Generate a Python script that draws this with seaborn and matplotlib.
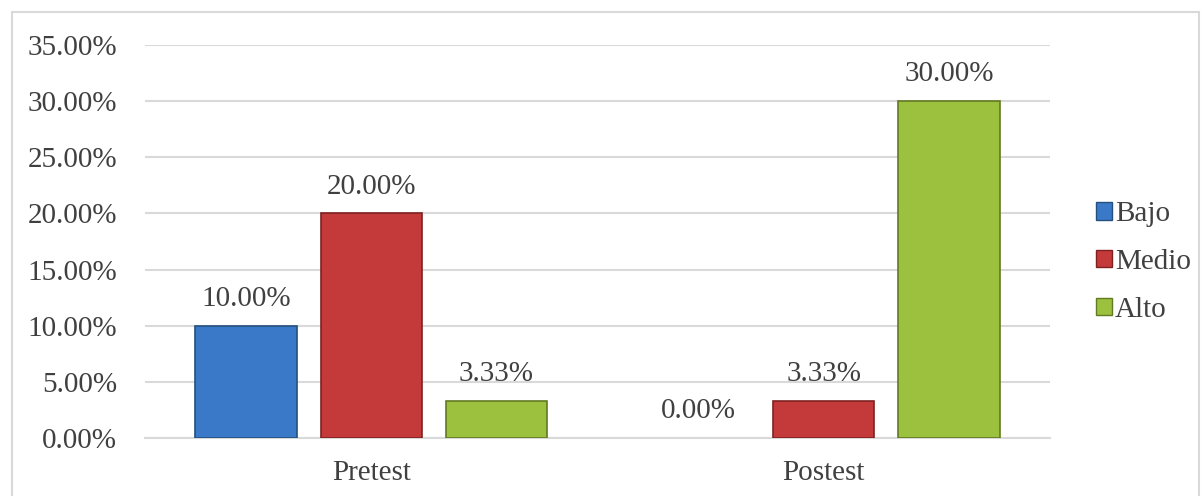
import matplotlib
matplotlib.use("Agg")
import matplotlib.pyplot as plt
import seaborn as sns
import pandas as pd
from matplotlib.patches import Rectangle, Patch

categories = ["Pretest", "Postest"]
levels = ["Bajo", "Medio", "Alto"]
bajo = [0.10, 0.0]
medio = [0.20, 0.0333]
alto = [0.0333, 0.30]
y_ticks = [0.0, 0.05, 0.10, 0.15, 0.20, 0.25, 0.30, 0.35]

colors = {"Bajo": "#3a78c8", "Medio": "#c4393a", "Alto": "#9cc13e"}
edges = {"Bajo": "#24507f", "Medio": "#7e2221", "Alto": "#627a22"}

rows = []
for i, c in enumerate(categories):
    rows.append({"cat": c, "lvl": "Bajo", "val": bajo[i]})
    rows.append({"cat": c, "lvl": "Medio", "val": medio[i]})
    rows.append({"cat": c, "lvl": "Alto", "val": alto[i]})
df = pd.DataFrame(rows)

sns.set_theme(style="white")
plt.rcParams["font.family"] = ["Liberation Serif", "DejaVu Serif"]
text_color = "#404040"
fs = 21

fig = plt.figure(figsize=(12.02, 4.96), dpi=100)
ax = fig.add_axes([145 / 1202, 58 / 496, 905 / 1202, 393 / 496])

sns.barplot(data=df, x="cat", y="val", hue="lvl", order=categories,
            hue_order=levels, palette=colors, width=0.83, gap=0.19,
            saturation=1, ax=ax, legend=False, zorder=3)

for cont, lvl in zip(ax.containers, levels):
    for p in cont:
        if p.get_height() > 0:
            p.set_edgecolor(edges[lvl])
            p.set_linewidth(1.2)
        else:
            p.set_linewidth(0)
    ax.bar_label(cont, labels=[f"{v*100:.2f}%" for v in cont.datavalues],
                 padding=10, fontsize=fs, color=text_color)

ax.set_ylim(0, 0.35)
ax.set_xlim(-0.5, 1.5)
ax.set_yticks(y_ticks)
ax.set_yticklabels([f"{t*100:.2f}%" for t in y_ticks])
ax.yaxis.grid(True, color="#d9d9d9", linewidth=1.5, zorder=0)
ax.set_axisbelow(True)
for s in ["top", "right", "left"]:
    ax.spines[s].set_visible(False)
ax.spines["bottom"].set_color("#d9d9d9")
ax.spines["bottom"].set_linewidth(1.5)
ax.tick_params(axis="both", length=0, labelsize=fs, labelcolor=text_color)
ax.tick_params(axis="y", pad=20)
ax.tick_params(axis="x", pad=16)
ax.set_xlabel("")
ax.set_ylabel("")

handles = [Patch(facecolor=colors[l], edgecolor=edges[l], label=l) for l in levels]
leg = fig.legend(handles=handles, loc="center left",
                 bbox_to_anchor=(1084 / 1202, 1 - 262 / 496), frameon=False,
                 fontsize=fs, handlelength=0.55, handleheight=0.55,
                 handletextpad=0.12, labelspacing=0.75, labelcolor=text_color,
                 borderaxespad=0)

fig.patches.append(Rectangle((12 / 1202, -0.05), 1187 / 1202, 1.05 - 12 / 496,
                             transform=fig.transFigure, fill=False,
                             edgecolor="#d9d9d9", linewidth=1.5))

fig.savefig("out.png", dpi=100)
